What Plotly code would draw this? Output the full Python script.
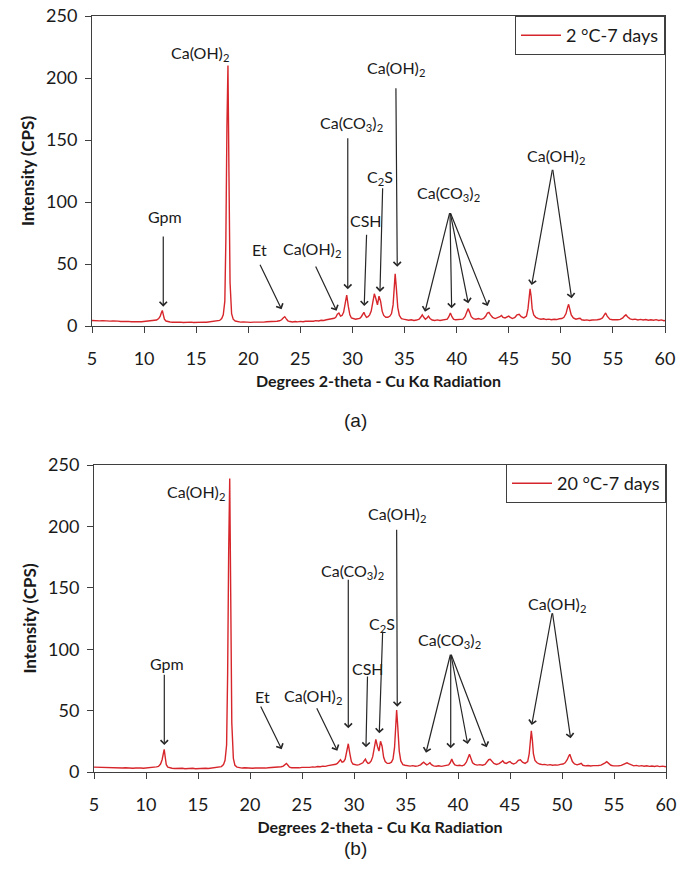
import plotly.graph_objects as go

# Diffraction scans (2-theta in degrees, intensity in counts per second)
two_theta = [
    5.0, 5.25, 5.5, 5.75, 6.0, 6.25, 6.5, 6.75, 7.0, 7.25, 7.5, 7.75, 8.0,
    8.25, 8.5, 8.75, 9.0, 9.25, 9.5, 9.75, 10.0, 10.25, 10.5, 10.75, 11.0,
    11.2, 11.4, 11.55, 11.65, 11.75, 11.85, 11.95, 12.1, 12.3, 12.5,
    12.75, 13.0, 13.25, 13.5, 13.75, 14.0, 14.25, 14.5, 14.75, 15.0,
    15.25, 15.5, 15.75, 16.0, 16.25, 16.5, 16.75, 17.0, 17.25,
    17.45, 17.6, 17.75, 17.85, 17.95, 18.05, 18.15, 18.25, 18.4, 18.55, 18.75,
    19.0, 19.25, 19.5, 19.75, 20.0, 20.25, 20.5, 20.75, 21.0, 21.25, 21.5,
    21.75, 22.0, 22.25, 22.5, 22.75, 23.0,
    23.2, 23.35, 23.5, 23.65, 23.8, 24.0,
    24.25, 24.5, 24.75, 25.0, 25.25, 25.5, 25.75, 26.0, 26.25, 26.5, 26.75,
    27.0, 27.25, 27.5, 27.75, 28.0, 28.25,
    28.4, 28.55, 28.7, 28.85, 29.0, 29.15, 29.3, 29.45, 29.6, 29.75, 29.9,
    30.1, 30.3, 30.5, 30.7, 30.85, 31.0, 31.1, 31.2, 31.35, 31.5, 31.65, 31.8, 31.95,
    32.1, 32.25, 32.4, 32.55, 32.7, 32.85, 33.0, 33.2, 33.4, 33.6, 33.75, 33.9,
    34.0, 34.1, 34.2, 34.35, 34.5, 34.7, 34.9,
    35.15, 35.4, 35.65, 35.9, 36.15, 36.4, 36.55, 36.7, 36.85, 37.0,
    37.15, 37.3, 37.45, 37.65, 37.9, 38.15, 38.4, 38.65, 38.9,
    39.1, 39.25, 39.4, 39.55, 39.7, 39.9, 40.15, 40.4, 40.6, 40.8,
    40.95, 41.1, 41.25, 41.4, 41.6, 41.85, 42.1, 42.35, 42.6, 42.8,
    42.95, 43.1, 43.25, 43.45, 43.7, 43.95, 44.15, 44.3, 44.45, 44.65,
    44.85, 45.0, 45.15, 45.35, 45.6, 45.8, 46.0, 46.2, 46.45, 46.7,
    46.85, 46.95, 47.05, 47.15, 47.25, 47.4, 47.6, 47.85, 48.1, 48.35,
    48.6, 48.85, 49.1, 49.35, 49.6, 49.85, 50.1, 50.3, 50.5, 50.65,
    50.75, 50.85, 51.0, 51.2, 51.45, 51.7, 51.85, 52.0, 52.25, 52.5,
    52.75, 53.0, 53.25, 53.5, 53.75, 54.0, 54.15, 54.3, 54.45, 54.7,
    54.95, 55.2, 55.45, 55.7, 55.95, 56.1, 56.25, 56.4, 56.65, 56.9,
    57.15, 57.4, 57.65, 57.9, 58.15, 58.4, 58.65, 58.9, 59.15, 59.4,
    59.65, 59.9, 60.0,
]

intensity_2c = [
    4.4, 4.2, 4.5, 4.1, 4.3, 4.0, 4.2, 3.9, 4.1, 3.7, 3.9, 3.6, 3.8,
    3.5, 3.7, 3.4, 3.6, 3.3, 3.5, 3.4, 3.6, 3.5, 3.8, 3.9, 4.3,
    4.8, 6.0, 8.0, 10.5, 12.5, 9.0, 5.5, 4.0, 3.4, 3.2,
    3.0, 3.2, 2.9, 3.1, 2.8, 3.0, 2.9, 3.1, 2.8, 3.0,
    3.2, 2.9, 3.1, 3.0, 3.3, 3.2, 3.5, 3.8, 4.5,
    6.0, 9.0, 20.0, 70.0, 160.0, 210.0, 120.0, 35.0, 10.0, 5.5, 4.0,
    3.4, 3.1, 3.3, 3.0, 3.2, 2.9, 3.1, 3.0, 3.2, 3.3, 3.1,
    3.4, 3.5, 3.3, 3.6, 3.8, 4.2,
    5.0, 6.5, 7.5, 5.8, 4.2, 3.6,
    3.2, 3.6, 3.3, 3.7, 3.4, 3.8, 3.6, 4.0, 3.8, 4.3, 4.1,
    4.6, 4.4, 5.0, 5.2, 5.6, 6.2,
    7.0, 9.5, 10.5, 8.0, 8.5, 11.0, 18.0, 25.0, 16.0, 9.0, 6.5,
    5.8, 5.5, 5.8, 6.2, 7.5, 10.0, 11.0, 9.0, 7.0, 7.5, 9.0, 12.0, 19.0,
    26.0, 22.0, 17.0, 24.0, 20.0, 12.0, 8.5, 7.0, 7.0, 8.0, 10.0, 17.0,
    30.0, 42.0, 32.0, 15.0, 8.5, 6.0, 5.5,
    5.0, 4.6, 5.0, 4.5, 4.8, 5.5, 7.0, 9.0, 7.0, 5.5,
    6.5, 8.0, 6.0, 4.8, 4.5, 4.9, 4.4, 4.8, 5.0,
    5.5, 7.5, 10.5, 7.5, 5.5, 5.0, 5.2, 4.8, 5.5, 7.5,
    11.0, 14.0, 11.0, 7.5, 6.0, 5.5, 6.0, 5.4, 6.2, 8.0,
    10.5, 11.0, 9.0, 7.0, 6.0, 6.5, 7.5, 8.5, 7.0, 6.5,
    7.5, 8.0, 7.0, 6.0, 7.0, 9.0, 9.5, 7.5, 6.5, 8.0,
    14.0, 24.0, 30.0, 24.0, 14.0, 9.0, 7.0, 6.0, 5.5, 5.8,
    5.2, 5.5, 5.0, 5.4, 5.2, 5.8, 6.0, 7.0, 10.0, 15.0,
    17.5, 14.0, 9.0, 6.5, 5.5, 6.0, 6.2, 5.0, 4.6, 4.9,
    4.5, 4.8, 4.6, 5.0, 5.4, 6.5, 8.5, 10.5, 8.0, 5.5,
    5.0, 4.7, 5.0, 5.3, 6.5, 8.0, 9.0, 7.5, 5.8, 5.2,
    5.5, 4.9, 5.3, 4.8, 5.2, 4.7, 5.0, 4.6, 5.1, 4.5,
    4.9, 4.3, 4.4,
]

intensity_20c = [
    4.0, 3.9, 4.1, 3.8, 4.0, 3.7, 3.8, 3.6, 3.7, 3.4, 3.6, 3.3, 3.5,
    3.2, 3.4, 3.1, 3.3, 3.0, 3.2, 3.1, 3.3, 3.2, 3.5, 3.7, 4.2,
    4.6, 6.5, 10.0, 15.0, 18.5, 12.0, 6.0, 4.0, 3.3, 3.1,
    2.9, 3.1, 2.8, 3.0, 2.7, 2.9, 2.8, 3.0, 2.7, 2.9,
    3.1, 2.8, 3.0, 2.9, 3.2, 3.1, 3.4, 3.7, 4.4,
    6.0, 9.5, 22.0, 80.0, 180.0, 239.0, 140.0, 40.0, 11.0, 5.5, 4.0,
    3.5, 3.2, 3.4, 3.1, 3.3, 3.0, 3.2, 3.1, 3.3, 3.4, 3.2,
    3.5, 3.6, 3.4, 3.7, 3.9, 4.3,
    4.8, 6.0, 7.0, 5.5, 4.0, 3.5,
    3.3, 3.7, 3.4, 3.8, 3.6, 4.0, 3.8, 4.2, 4.0, 4.5, 4.3,
    4.8, 4.6, 5.2, 5.4, 5.8, 6.3,
    7.0, 9.0, 10.0, 8.0, 8.5, 10.5, 16.0, 23.0, 15.0, 8.5, 6.5,
    5.8, 5.6, 6.0, 6.5, 7.5, 9.5, 10.5, 8.5, 7.0, 7.5, 9.0, 12.5, 20.0,
    26.5, 21.0, 17.0, 25.0, 21.0, 12.0, 8.5, 7.0, 7.0, 8.0, 10.5, 20.0,
    36.0, 50.5, 38.0, 17.0, 9.0, 6.0, 5.5,
    5.2, 4.8, 5.2, 4.7, 5.0, 5.8, 7.0, 8.0, 6.8, 5.8,
    6.5, 7.5, 6.0, 5.0, 4.7, 5.1, 4.6, 5.0, 5.2,
    5.8, 7.5, 10.5, 7.5, 5.8, 5.2, 5.5, 5.0, 5.8, 8.0,
    11.5, 14.5, 11.0, 7.5, 6.2, 5.6, 6.0, 5.5, 6.2, 8.0,
    10.0, 10.3, 8.5, 7.0, 6.2, 6.8, 8.0, 9.2, 7.5, 7.0,
    8.0, 8.5, 7.2, 6.5, 7.5, 9.5, 10.0, 8.0, 7.0, 8.5,
    15.0, 27.0, 33.6, 26.0, 15.0, 9.5, 7.5, 6.5, 6.0, 6.2,
    5.6, 6.0, 5.5, 5.8, 5.6, 6.2, 6.5, 7.5, 10.0, 13.0,
    14.4, 12.0, 8.5, 6.5, 5.8, 6.5, 7.0, 5.5, 5.0, 5.3,
    4.9, 5.2, 5.0, 5.3, 5.6, 6.5, 7.5, 8.4, 7.0, 5.5,
    5.0, 4.8, 5.1, 5.4, 6.3, 7.2, 7.5, 6.8, 5.6, 5.0,
    5.4, 4.8, 5.2, 4.7, 5.1, 4.6, 4.9, 4.5, 5.0, 4.4,
    4.8, 4.2, 4.3,
]

assert len(two_theta) == len(intensity_2c) == len(intensity_20c)

series_names = ["2 °C-7 days", "20 °C-7 days"]
x_ticks = [5, 10, 15, 20, 25, 30, 35, 40, 45, 50, 55, 60]
y_ticks = [0, 50, 100, 150, 200, 250]

CA_OH = "Ca(OH)<sub>2</sub>"
CA_CO3 = "Ca(CO<sub>3</sub>)<sub>2</sub>"
C2S = "C<sub>2</sub>S"

# Phase labels (text centre in data units)
label_text = ["Gpm", CA_OH, "Et", CA_OH, CA_CO3, "CSH", C2S, CA_OH, CA_CO3, CA_OH]
label_x_a = [12.0, 15.37, 21.12, 26.16, 29.95, 31.33, 32.69, 34.16, 39.2, 49.5]
label_y_a = [88, 220, 61.8, 61.8, 163.5, 85, 120, 207.8, 107, 136.5]
label_x_b = [11.99, 14.76, 21.17, 26.09, 29.9, 31.3, 32.66, 34.12, 39.15, 49.49]
label_y_b = [88, 228, 61.3, 61.3, 163, 84.4, 120.3, 209.3, 106.7, 136.8]

# Pointer arrows: tail -> head, in data units
arrow_tail_x_a = [11.84, 21.06, 26.4, 29.55, 31.36, 32.9, 34.17, 39.36, 39.36, 39.36, 39.36, 49.21, 49.21]
arrow_tail_y_a = [73.4, 50.6, 49.2, 152.7, 74.8, 112.3, 193, 92.2, 92.2, 92.2, 92.2, 127.2, 127.2]
arrow_head_x_a = [11.84, 23.2, 28.48, 29.55, 31.13, 32.64, 34.3, 36.96, 39.52, 41.12, 42.98, 47.2, 51.04]
arrow_head_y_a = [15.6, 13.5, 12.3, 29.6, 16.1, 27.5, 47.8, 11.5, 14.3, 18.3, 16.1, 33, 22.3]

arrow_tail_x_b = [11.76, 20.96, 26.35, 29.45, 31.3, 32.76, 34.1, 39.3, 39.3, 39.3, 39.3, 49.07, 49.07]
arrow_tail_y_b = [80.4, 54.6, 53.2, 157.7, 79, 115.6, 198.4, 96.7, 96.7, 96.7, 96.7, 130.5, 130.5]
arrow_head_x_b = [11.76, 23.05, 28.4, 29.45, 31.15, 32.43, 34.16, 36.92, 39.3, 40.93, 42.76, 47.09, 50.83]
arrow_head_y_b = [22, 18.5, 17.4, 35.6, 20.1, 31.5, 53.2, 15.7, 19.3, 22.8, 20.1, 38.3, 27.4]

RED = "#d7262b"
FRAME = "#3f3f3f"
TEXT = "#1a1a1a"
FONT = "Lato"

W, H = 691, 869

fig = go.Figure()
fig.add_trace(go.Scatter(x=two_theta, y=intensity_2c, mode="lines", name=series_names[0],
                         line=dict(color=RED, width=1.4), xaxis="x", yaxis="y", legend="legend"))
fig.add_trace(go.Scatter(x=two_theta, y=intensity_20c, mode="lines", name=series_names[1],
                         line=dict(color=RED, width=1.4), xaxis="x2", yaxis="y2", legend="legend2"))

axis_common = dict(
    showline=True, linecolor=FRAME, linewidth=1, mirror=True,
    ticks="outside", ticklen=6, tickwidth=1, tickcolor=FRAME,
    showgrid=False, zeroline=False, automargin=False,
    tickfont=dict(family=FONT, size=18, color=TEXT),
)
x_title = dict(text="<b>Degrees 2-theta - Cu Kα Radiation</b>",
               font=dict(family=FONT, size=16, color=TEXT), standoff=8)
y_title = dict(text="<b>Intensity (CPS)</b>",
               font=dict(family=FONT, size=17, color=TEXT), standoff=7)

def px_x(p):
    return p / W

def px_y(p):
    return 1 - p / H

fig.update_layout(
    width=W, height=H, margin=dict(l=0, r=0, t=0, b=0),
    paper_bgcolor="white", plot_bgcolor="white",
    xaxis=dict(axis_common, domain=[px_x(92), px_x(665)], anchor="y", range=[5, 60],
               tickvals=x_ticks, ticklabelstandoff=10, title=x_title),
    yaxis=dict(axis_common, domain=[px_y(326), px_y(16)], anchor="x", range=[0, 250],
               tickvals=y_ticks, ticklabelstandoff=4, title=y_title),
    xaxis2=dict(axis_common, domain=[px_x(94), px_x(666)], anchor="y2", range=[5, 60],
                tickvals=x_ticks, ticklabelstandoff=10, title=x_title),
    yaxis2=dict(axis_common, domain=[px_y(772), px_y(465)], anchor="x2", range=[0, 250],
                tickvals=y_ticks, ticklabelstandoff=4, title=y_title),
    legend=dict(x=px_x(665), xanchor="right", y=px_y(16), yanchor="top",
                bordercolor=FRAME, borderwidth=1, bgcolor="white", itemwidth=40,
                font=dict(family=FONT, size=18, color=TEXT)),
    legend2=dict(x=px_x(666), xanchor="right", y=px_y(464), yanchor="top",
                 bordercolor=FRAME, borderwidth=1, bgcolor="white", itemwidth=40,
                 font=dict(family=FONT, size=18, color=TEXT)),
    showlegend=True,
)

annotations = []
panels = [
    ("x", "y", label_x_a, label_y_a, arrow_tail_x_a, arrow_tail_y_a, arrow_head_x_a, arrow_head_y_a),
    ("x2", "y2", label_x_b, label_y_b, arrow_tail_x_b, arrow_tail_y_b, arrow_head_x_b, arrow_head_y_b),
]
for xr, yr, lx, ly, tx, ty, hx, hy in panels:
    for t, x, y in zip(label_text, lx, ly):
        annotations.append(dict(text=t, x=x, y=y, xref=xr, yref=yr, showarrow=False,
                                xanchor="center", yanchor="middle",
                                font=dict(family=FONT, size=16, color=TEXT)))
    for x0, y0, x1, y1 in zip(tx, ty, hx, hy):
        annotations.append(dict(text="", x=x1, y=y1, ax=x0, ay=y0, xref=xr, yref=yr,
                                axref=xr, ayref=yr, showarrow=True, arrowhead=4,
                                arrowsize=1.2, arrowwidth=1.2, arrowcolor="#262626",
                                standoff=0, startstandoff=0))

for tag, ypx in (("(a)", 421), ("(b)", 848)):
    annotations.append(dict(text=tag, x=px_x(355), y=px_y(ypx), xref="paper", yref="paper",
                            showarrow=False, xanchor="center", yanchor="middle",
                            font=dict(family="Liberation Sans", size=19, color=TEXT)))

fig.update_layout(annotations=annotations)
fig.write_html("out.html")
